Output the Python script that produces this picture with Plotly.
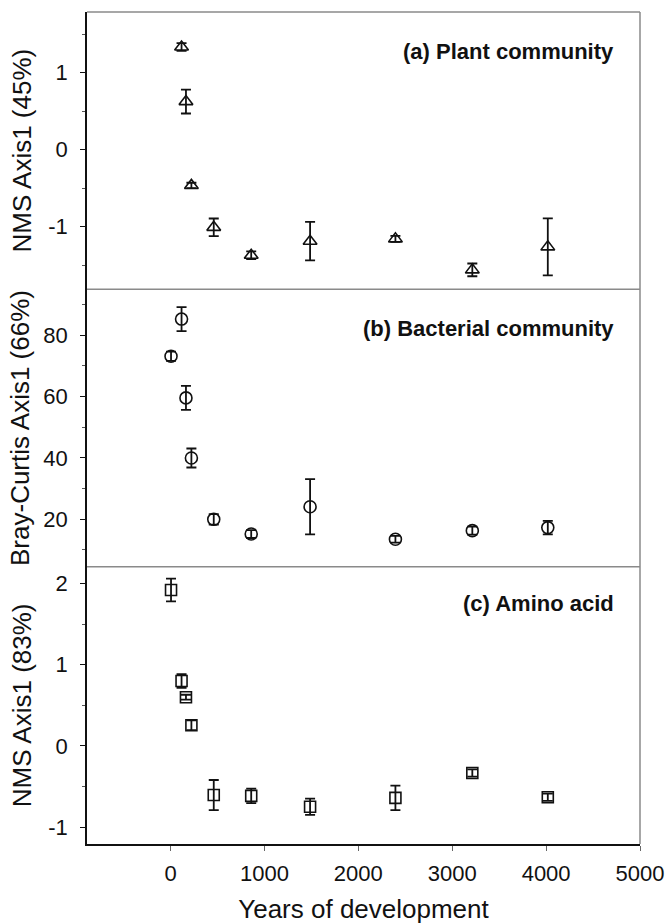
import plotly.graph_objects as go
from plotly.subplots import make_subplots

# ---- data ----
years = [5, 117, 164, 222, 460, 859, 1486, 2395, 3214, 4018]

plant_years = [117, 164, 222, 460, 859, 1486, 2395, 3214, 4018]
plant = [1.335, 0.625, -0.465, -1.01, -1.373, -1.19, -1.16, -1.563, -1.264]
plant_err = [0.05, 0.155, 0.035, 0.115, 0.05, 0.25, 0.04, 0.083, 0.37]

bact = [73.2, 85.3, 59.6, 40.0, 20.0, 15.2, 24.1, 13.5, 16.3, 17.3]
bact_err = [1.5, 3.9, 3.9, 3.1, 1.7, 1.3, 9.0, 1.1, 1.3, 2.2]

amino = [1.92, 0.80, 0.60, 0.255, -0.605, -0.615, -0.75, -0.64, -0.333, -0.633]
amino_err = [0.14, 0.085, 0.03, 0.06, 0.185, 0.09, 0.10, 0.15, 0.045, 0.045]

x_ticks = [0, 1000, 2000, 3000, 4000, 5000]
y_ticks = [[-1, 0, 1], [20, 40, 60, 80], [-1, 0, 1, 2]]

panel_labels = ["(a) Plant community", "(b) Bacterial community", "(c) Amino acid"]
y_titles = ["NMS Axis1 (45%)", "Bray-Curtis Axis1 (66%)", "NMS Axis1 (83%)"]
x_title = "Years of development"

FONT = "Liberation Sans, Arial, sans-serif"
BLACK = "#111111"
GRAY = "#8a8a8a"

fig = make_subplots(rows=3, cols=1, shared_xaxes=True, vertical_spacing=0)

def add_series(x, y, err, symbol, size, row):
    fig.add_trace(go.Scatter(
        x=x, y=y, mode="markers",
        marker=dict(symbol=symbol, size=size, color=BLACK,
                    line=dict(color=BLACK, width=1.6)),
        error_y=dict(type="data", array=err, visible=True,
                     color=BLACK, thickness=1.8, width=5),
        showlegend=False), row=row, col=1)

add_series(plant_years, plant, plant_err, "triangle-up-open", 12, 1)
add_series(years, bact, bact_err, "circle-open", 12, 2)
add_series(years, amino, amino_err, "square-open", 11, 3)

yranges = [[-1.816, 1.79], [4.56, 95.0], [-1.208, 2.207]]
yminor = [0.5, 10, 0.5]
standoffs = [9, 6, 9]

def fmt(v):
    return str(v).replace("\u2212", "-")

for i in range(3):
    fig.update_yaxes(
        row=i + 1, col=1, range=yranges[i], automargin=False,
        tickmode="array", tickvals=y_ticks[i], ticktext=[fmt(v) for v in y_ticks[i]],
        showline=True, linecolor=BLACK, linewidth=1.5,
        ticks="outside", ticklen=5, tickwidth=1.3, tickcolor=BLACK,
        minor=dict(ticks="outside", ticklen=3, tickwidth=1, tickcolor="#555555",
                   dtick=yminor[i], tick0=0, showgrid=False),
        showgrid=False, zeroline=False,
        tickfont=dict(family=FONT, size=22, color=BLACK),
        ticklabelstandoff=8,
        title=dict(text=y_titles[i], font=dict(family=FONT, size=26, color=BLACK),
                   standoff=standoffs[i]),
    )

for i in range(3):
    fig.update_xaxes(row=i + 1, col=1, range=[-890, 5000], showgrid=False,
                     zeroline=False, tickmode="array", tickvals=x_ticks,
                     ticktext=[str(v) for v in x_ticks], automargin=False,
                     ticklabeloverflow="allow")
fig.update_xaxes(row=1, col=1, showline=False, ticks="", showticklabels=False)
fig.update_xaxes(row=2, col=1, showline=False, ticks="", showticklabels=False)
fig.update_xaxes(row=3, col=1, showline=True, linecolor=BLACK, linewidth=1.5,
                 ticks="outside", ticklen=5, tickwidth=1.3, tickcolor="#666666",
                 tickfont=dict(family=FONT, size=22, color=BLACK),
                 ticklabelstandoff=4,
                 title=dict(text=x_title, font=dict(family=FONT, size=26, color=BLACK),
                            standoff=35))

# gray frame: right edge, top edge, panel separators
fig.add_shape(type="line", xref="paper", yref="paper", x0=1, x1=1, y0=0, y1=1,
              line=dict(color=GRAY, width=1.5), layer="below")
for yy in [1, 2 / 3, 1 / 3]:
    fig.add_shape(type="line", xref="paper", yref="paper", x0=0, x1=1, y0=yy, y1=yy,
                  line=dict(color=GRAY, width=1.5), layer="below")

# panel labels
label_y = [0.858, 0.858, 0.868]
axnames = ["", "2", "3"]
for i in range(3):
    fig.add_annotation(text="<b>" + panel_labels[i] + "</b>",
                       xref="x" + axnames[i] + " domain", yref="y" + axnames[i] + " domain",
                       x=0.956, y=label_y[i], xanchor="right", yanchor="middle",
                       showarrow=False, font=dict(family=FONT, size=22, color=BLACK))

fig.update_layout(
    width=669, height=924,
    margin=dict(l=87, r=29, t=12, b=80),
    paper_bgcolor="white", plot_bgcolor="white",
    font=dict(family=FONT, color=BLACK),
)

fig.write_html("out.html")
